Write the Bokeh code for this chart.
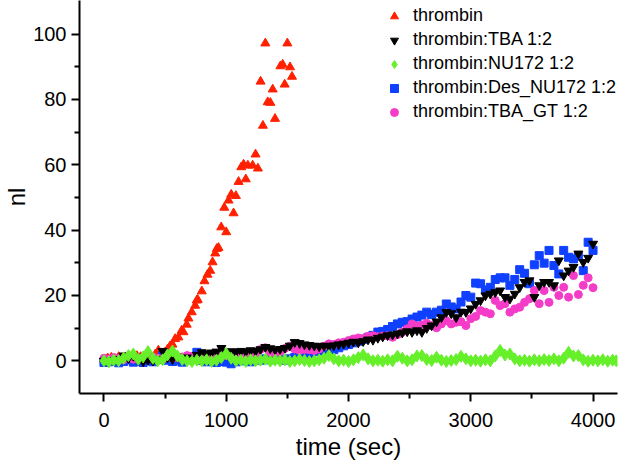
from bokeh.plotting import figure
from bokeh.models import Range1d, FixedTicker, Legend, LegendItem
from bokeh.embed import file_html
from bokeh.resources import INLINE

# ---------------- data ----------------
x_major = [0, 1000, 2000, 3000, 4000]
x_minor = [500, 1500, 2500, 3500]
y_major = [0, 20, 40, 60, 80, 100]
y_minor = [10, 30, 50, 70, 90]

t_thrombin = [0, 30, 60, 90, 120, 150, 180, 210, 240, 270,
              300, 330, 360, 390, 420, 445, 470, 500, 520, 541,
              560, 582, 609, 636, 650, 677, 691, 718, 746, 759,
              767, 800, 822, 847, 869, 888, 910, 923, 937, 959,
              984, 1000, 1019, 1041, 1060, 1079, 1101, 1123, 1142, 1160,
              1177, 1216, 1240, 1259, 1281, 1300, 1320, 1339, 1361, 1380,
              1399, 1443, 1462, 1478, 1500, 1522, 1538]
v_thrombin = [0.5, 0.8, 1.0, 0.6, 1.2, 0.8, 1.0, 1.3, 0.9, 1.5,
              1.2, 0.9, 1.4, 1.0, 2.0, 3.2, 2.0, 2.6, 3.5, 4.5,
              5.0, 6.7, 7.2, 9.3, 8.8, 11.1, 13.0, 14.9, 16.9, 18.5,
              18.7, 21.3, 24.4, 26.4, 27.6, 30.2, 32.9, 34.3, 34.6, 40.9,
              46.9, 39.4, 49.1, 50.9, 45.2, 50.5, 54.8, 59.3, 60.1, 55.6,
              59.8, 59.8, 63.2, 58.9, 85.5, 72.0, 97.2, 79.2, 79.0, 83.1,
              74.1, 90.2, 90.7, 84.6, 97.2, 89.9, 87.0]

t_slow = [0, 40, 80, 120, 160, 200, 240, 280, 320, 360,
          400, 440, 480, 520, 560, 600, 640, 680, 720, 760,
          800, 840, 880, 920, 960, 1000, 1040, 1080, 1120, 1160,
          1200, 1240, 1280, 1320, 1360, 1400, 1440, 1480, 1520, 1560,
          1600, 1640, 1680, 1720, 1760, 1800, 1840, 1880, 1920, 1960,
          2000, 2040, 2080, 2120, 2160, 2200, 2240, 2280, 2320, 2360,
          2400, 2440, 2480, 2520, 2560, 2600, 2640, 2680, 2720, 2760,
          2800, 2840, 2880, 2920, 2960, 3000, 3040, 3080, 3120, 3160,
          3200, 3240, 3280, 3320, 3360, 3400, 3440, 3480, 3520, 3560,
          3600, 3640, 3680, 3720, 3760, 3800, 3840, 3880, 3920, 3960,
          4000]

v_tba = [0.0, -0.3, 0.2, 0.5, 1.6, 0.8, 1.5, 0.2, -0.2, 0.3,
         0.0, 0.5, 3.0, 1.0, 0.5, 1.2, 0.8, 1.0, 0.6, 1.8,
         2.6, 2.2, 2.5, 2.8, 3.9, 2.6, 2.9, 2.7, 3.0, 2.8,
         3.2, 3.0, 3.5, 4.2, 3.8, 3.4, 3.6, 3.9, 4.6, 5.7,
         5.4, 5.0, 4.8, 4.6, 4.4, 4.6, 4.4, 4.7, 5.0, 5.2,
         5.5, 5.8, 5.6, 6.0, 6.5, 6.4, 7.0, 7.4, 7.8, 8.0,
         8.3, 8.6, 9.0, 8.8, 9.3, 8.8, 10.0, 10.8, 12.0, 13.3,
         14.9, 14.5, 13.3, 15.0, 14.9, 16.0, 17.4, 18.5, 20.0, 20.5,
         21.0, 21.5, 19.5, 19.0, 20.5, 22.5, 24.1, 24.6, 19.5, 23.1,
         24.1, 24.1, 23.1, 30.7, 26.1, 27.6, 28.7, 32.8, 30.2, 31.5,
         35.8]

v_des = [-0.5, -0.3, 0.0, -0.6, -0.2, 0.3, -0.4, 0.0, -0.5, 0.2,
         -0.3, 0.5, 1.6, 0.2, -0.2, 0.0, -0.4, 0.3, 0.8, 2.6,
         0.2, -0.3, 0.0, -0.5, -0.2, -0.4, -0.9, -0.3, 0.2, 0.0,
         -0.3, 0.4, 0.2, 0.6, 0.3, 0.8, 0.5, 0.2, 0.6, 1.0,
         2.0, 2.6, 2.2, 2.8, 3.0, 3.2, 3.2, 3.4, 4.0, 4.6,
         5.0, 5.5, 6.0, 6.6, 7.2, 7.8, 8.8, 9.0, 9.6, 10.5,
         11.3, 11.8, 12.0, 12.8, 13.4, 14.0, 14.9, 14.2, 14.9, 15.5,
         17.4, 16.5, 15.9, 18.0, 20.0, 19.5, 23.8, 23.6, 21.7, 22.5,
         24.9, 25.4, 25.4, 23.1, 24.9, 27.9, 26.8, 23.6, 29.4, 32.2,
         29.9, 33.8, 29.2, 26.6, 33.8, 31.7, 31.2, 32.0, 27.6, 36.3,
         33.8]

v_tba_gt = [0.8, 0.5, 1.0, 0.6, 0.3, 0.9, 0.5, 0.8, 1.0, 0.6,
            1.2, 0.8, 0.5, 1.0, 1.3, 0.9, 1.2, 1.6, 1.4, 1.0,
            1.2, 1.5, 1.3, 1.0, 1.4, 1.7, 1.5, 1.8, 1.6, 2.0,
            1.8, 2.2, 3.5, 4.0, 2.6, 2.4, 2.8, 3.8, 4.5, 3.6,
            3.2, 3.5, 3.4, 3.2, 3.6, 4.5, 5.2, 5.0, 5.5, 5.7,
            6.2, 6.7, 7.0, 6.8, 7.5, 7.7, 7.4, 7.6, 7.7, 7.2,
            8.0, 8.8, 9.8, 11.3, 10.6, 11.0, 11.5, 10.8, 10.1, 11.3,
            12.3, 11.3, 11.8, 12.0, 10.8, 12.9, 13.6, 15.4, 14.9, 14.4,
            18.5, 16.9, 17.5, 14.9, 15.9, 16.4, 17.9, 19.0, 21.5, 17.5,
            21.5, 17.9, 22.5, 20.0, 22.5, 19.5, 26.1, 20.3, 23.1, 25.4,
            22.4]

t_nu172 = t_slow[:-1] + [4000, 4040, 4080, 4120, 4160, 4190]
v_nu172 = [0.0, -0.3, 0.2, 0.0, 0.8, 1.6, 2.1, 0.5, 1.2, 2.8,
           0.8, 0.0, 0.3, 1.8, 3.0, 1.5, 0.4, 0.0, -0.2, 0.2,
           0.0, 0.3, -0.2, 0.2, 1.0, 2.2, 0.8, 0.0, 0.2, -0.2,
           0.3, 0.0, 0.2, 0.5, -0.1, 0.2, 0.0, 0.3, -0.2, 0.0,
           0.4, 0.1, -0.2, 0.0, 0.3, 0.8, 1.6, 0.6, 0.0, 0.2,
           -0.2, 0.3, 1.0, 1.8, 0.6, 0.0, 0.2, -0.1, 0.3, 0.0,
           1.4, 0.8, 0.0, 0.3, 1.5, 1.6, 0.4, 0.1, 1.1, 0.2,
           -0.2, 0.1, 0.4, 1.4, 0.6, 0.0, 0.2, -0.1, 0.3, 0.0,
           1.5, 3.2, 1.8, 2.1, 0.6, 0.0, 0.2, -0.1, 0.3, 0.0,
           0.4, 0.1, 0.6, 0.0, 0.8, 2.6, 1.5, 1.6, 0.3, -0.1,
           0.2, 0.0, 0.3, -0.1, 0.2, 0.0]

labels = ["thrombin", "thrombin:TBA 1:2", "thrombin:NU172 1:2",
          "thrombin:Des_NU172 1:2", "thrombin:TBA_GT 1:2"]

# ---------------- figure ----------------
FONT = "Liberation Sans"
p = figure(frame_width=538, frame_height=393,
           x_range=Range1d(-200, 4200), y_range=Range1d(-10, 110.3),
           output_backend="svg", toolbar_location=None,
           min_border_left=73, min_border_right=3,
           min_border_top=0, min_border_bottom=67,
           x_axis_label="time (sec)", y_axis_label="nl")
p.xgrid.visible = False
p.ygrid.visible = False
p.outline_line_color = None
p.background_fill_color = "white"
p.border_fill_color = "white"

p.xaxis.ticker = FixedTicker(ticks=x_major, minor_ticks=x_minor)
p.yaxis.ticker = FixedTicker(ticks=y_major, minor_ticks=y_minor)

for ax in (p.xaxis[0], p.yaxis[0]):
    ax.axis_line_width = 2
    ax.axis_line_color = "black"
    ax.major_tick_line_width = 2
    ax.minor_tick_line_width = 2
    ax.major_tick_line_color = "black"
    ax.minor_tick_line_color = "black"
    ax.major_tick_out = 8
    ax.major_tick_in = 0
    ax.minor_tick_out = 5
    ax.minor_tick_in = 0
    ax.major_label_text_font = FONT
    ax.major_label_text_font_size = "20px"
    ax.major_label_text_color = "black"
    ax.axis_label_text_font = FONT
    ax.axis_label_text_font_size = "24px"
    ax.axis_label_text_font_style = "normal"
    ax.axis_label_text_color = "black"
    ax.axis_label_standoff = 0

p.xaxis[0].major_label_standoff = 11
p.xaxis[0].axis_label_standoff = 3
p.yaxis[0].major_label_standoff = 5

RED = "#FF2000"
BLACK = "#000000"
GREEN = "#66F02A"
BLUE = "#1040FF"
PINK = "#F53CC8"

r_red = p.scatter(t_thrombin, v_thrombin, marker="triangle", size=9,
                  fill_color=RED, line_color=RED)
r_blue = p.scatter(t_slow, v_des, marker="square", size=8,
                   fill_color=BLUE, line_color=BLUE)
r_pink = p.scatter(t_slow, v_tba_gt, marker="circle", size=8,
                   fill_color=PINK, line_color=PINK)
r_black = p.scatter(t_slow, v_tba, marker="inverted_triangle", size=9,
                    fill_color=BLACK, line_color=BLACK)
r_green = p.scatter(t_nu172, v_nu172, marker="diamond", size=12,
                    fill_color=GREEN, line_color=GREEN)

legend = Legend(items=[
    LegendItem(label=labels[0], renderers=[r_red]),
    LegendItem(label=labels[1], renderers=[r_black]),
    LegendItem(label=labels[2], renderers=[r_green]),
    LegendItem(label=labels[3], renderers=[r_blue]),
    LegendItem(label=labels[4], renderers=[r_pink]),
], location=(305, 271), orientation="vertical",
    glyph_width=20, glyph_height=20, label_height=20,
    label_standoff=9, spacing=3, padding=0, margin=0,
    background_fill_alpha=0, border_line_alpha=0,
    label_text_font=FONT, label_text_font_size="18px",
    label_text_color="black")
p.add_layout(legend)

open("out.html", "w").write(file_html(p, INLINE))
